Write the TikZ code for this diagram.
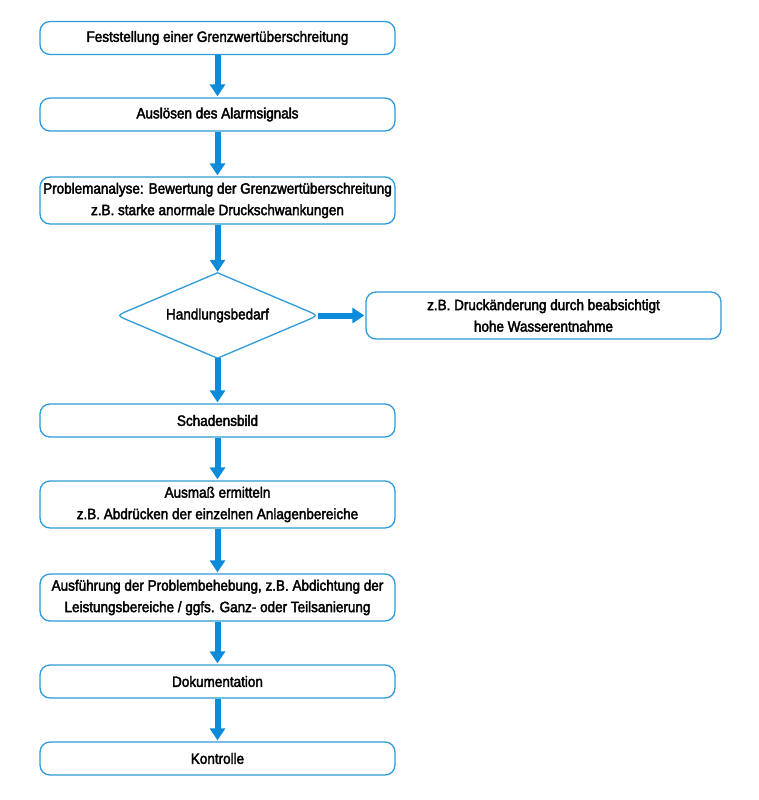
\documentclass[tikz,border=0pt]{standalone}
\usepackage{fontspec}
\setmainfont{Liberation Sans}[FakeStretch=0.9,FakeBold=2.5]
\usetikzlibrary{arrows.meta,shapes.geometric,calc}
\definecolor{boxblue}{HTML}{2E9AD9}
\definecolor{arrowblue}{HTML}{0B8BD9}
\tikzset{
  flowbox/.style={draw=boxblue, line width=1.3pt, rounded corners=10pt, fill=white,
    minimum width=355pt, align=center, inner sep=0pt,
    font=\fontsize{15pt}{21.5pt}\selectfont},
  onebox/.style={flowbox, minimum height=33pt},
  twobox/.style={flowbox, minimum height=47pt},
  flowarrow/.style={line width=6pt, draw=arrowblue,
    -{Triangle[length=12pt,width=15pt]}, shorten >=1pt},
  decision/.style={shape=diamond, aspect=2.36, minimum width=201pt, minimum height=85pt,
    inner sep=0pt, font=\fontsize{15pt}{21.5pt}\selectfont}
}
\begin{document}
\begin{tikzpicture}[x=1pt,y=-1pt]
\useasboundingbox (0,0) rectangle (758,800);
\node[onebox] (b1) at (217.5,38) {Feststellung einer Grenzwertüberschreitung};
\node[onebox] (b2) at (217.5,114.5) {Auslösen des Alarmsignals};
\node[twobox] (b3) at (217.5,200.5) {Problemanalyse: Bewertung der Grenzwertüberschreitung\\z.B. starke anormale Druckschwankungen};
\node[decision] (d) at (217.5,315.5) {Handlungsbedarf};
\draw[draw=boxblue, line width=1.3pt]
  (d.north) -- ($(d.north)!0.88!(d.west)$) .. controls (d.west) .. ($(d.south)!0.88!(d.west)$)
  -- (d.south) -- ($(d.south)!0.88!(d.east)$) .. controls (d.east) .. ($(d.north)!0.88!(d.east)$)
  -- cycle;
\node[twobox] (r) at (543.5,315.5) {z.B. Druckänderung durch beabsichtigt\\hohe Wasserentnahme};
\node[onebox] (b4) at (217.5,420.5) {Schadensbild};
\node[twobox] (b5) at (217.5,504.5) {Ausmaß ermitteln\\z.B. Abdrücken der einzelnen Anlagenbereiche};
\node[twobox] (b6) at (217.5,597.5) {Ausführung der Problembehebung, z.B. Abdichtung der\\Leistungsbereiche / ggfs. Ganz- oder Teilsanierung};
\node[onebox] (b7) at (217.5,681.5) {Dokumentation};
\node[onebox] (b8) at (217.5,758.5) {Kontrolle};
\draw[flowarrow] (b1) -- (b2);
\draw[flowarrow] (b2) -- (b3);
\draw[flowarrow] (b3) -- (d.north);
\draw[flowarrow] (d.east) -- (r);
\draw[flowarrow] (d.south) -- (b4);
\draw[flowarrow] (b4) -- (b5);
\draw[flowarrow] (b5) -- (b6);
\draw[flowarrow] (b6) -- (b7);
\draw[flowarrow] (b7) -- (b8);
\end{tikzpicture}
\end{document}
